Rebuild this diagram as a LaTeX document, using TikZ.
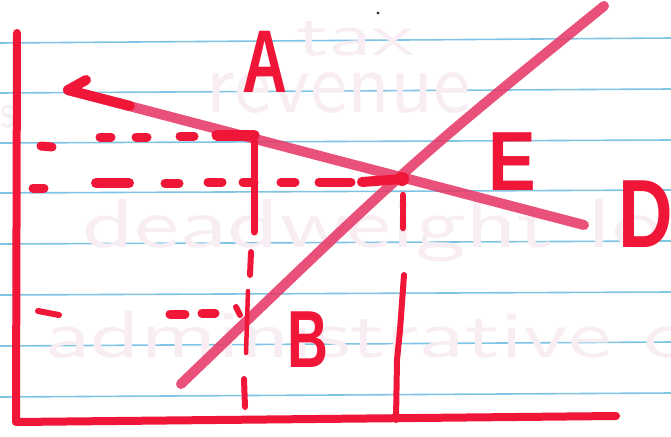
\documentclass[tikz,border=0pt]{standalone}
\usepackage{fontspec}
\usepackage{graphicx}
\newfontfamily\markerfont{Liberation Sans}
\definecolor{mred}{RGB}{240,22,56}
\definecolor{mpink}{RGB}{230,58,104}
\definecolor{rulecol}{RGB}{128,196,228}
\definecolor{ghost}{RGB}{247,237,243}
\tikzset{
  axisline/.style={draw=mred,line width=8pt,line cap=round,line join=round},
  curveline/.style={draw=mpink,line width=10pt,line cap=round,opacity=0.88},
  dashpiece/.style={draw=mred,line width=9pt,line cap=round},
  guidepiece/.style={draw=mred,line width=6pt,line cap=round},
  ruling/.style={draw=rulecol,line width=1.6pt},
  lab/.style={text=mred,inner sep=0pt,anchor=base},
  ghosttext/.style={text=ghost,font=\sffamily,inner sep=0pt,anchor=base west}
}
\begin{document}
\begin{tikzpicture}[x=1pt,y=-1pt]
\useasboundingbox (0,0) rectangle (671,436);
\fill[white] (0,0) rectangle (671,436);
% notebook rulings
\foreach \yl/\yr in {43/38,93/89,143/140,193/190,244/241,295/292,346/342,397/393}
  \draw[ruling] (0,\yl) -- (671,\yr);
% faint bleed-through writing
\node[ghosttext] (g0) at (0,127) {\resizebox{16pt}{22pt}{s}};
\node[ghosttext] (g1) at (296,55) {\resizebox{118pt}{34pt}{tax}};
\node[ghosttext] (g2) at (206,112) {\resizebox{264pt}{40pt}{revenue}};
\node[ghosttext] (g3) at (82,247) {\resizebox{580pt}{48pt}{deadweight lo}};
\node[ghosttext] (g4) at (44,357) {\resizebox{690pt}{46pt}{administrative co}};
% speck
\fill[black!80] (378,13) circle (1.6);
% axes
\coordinate (yTop) at (17,33);
\coordinate (orig) at (16,422);
\coordinate (xEnd) at (616,416);
\draw[axisline] (yTop) -- (orig) -- (xEnd);
% key points
\coordinate (E0) at (402,179);
\coordinate (dL) at (68,90);
\coordinate (dL2) at (130,106);
\coordinate (dR) at (584,225);
\coordinate (barb) at (86,80);
\coordinate (sL) at (181,384);
\coordinate (sR) at (604,6);
% supply line (slightly bowed through E)
\draw[curveline] (sL) .. controls (413,161) .. (sR);
% demand line with arrow at its left end
\draw[curveline] (dL) -- (dR);
\draw[draw=mred,line width=10pt,line cap=round,line join=round] (barb) -- (dL) -- (dL2);
% upper dashed level (A)
\draw[dashpiece] (41,146) -- (52,147);
\draw[dashpiece] (100,137) -- (111,137);
\draw[dashpiece] (136,137) -- (147,137);
\draw[dashpiece] (180,136) -- (194,136);
\draw[dashpiece,line width=11pt] (217,135) -- (254,135);
% middle dashed level (E)
\draw[dashpiece] (33,188) -- (44,188);
\draw[dashpiece,line width=10pt] (96,183) -- (129,183);
\draw[dashpiece] (165,183) -- (179,183);
\draw[dashpiece] (208,182) -- (222,182);
\draw[dashpiece] (243,182) -- (254,182);
\draw[dashpiece] (281,182) -- (295,182);
\draw[dashpiece] (319,182) -- (351,182);
\draw[dashpiece,line width=10pt] (362,182) -- (E0);
\fill[mred] (E0) circle (7);
% lower dashed level (B)
\draw[dashpiece,line width=6pt] (38,311) -- (59,315);
\draw[dashpiece] (170,314) -- (185,314);
\draw[dashpiece] (202,313) -- (215,313);
\draw[dashpiece,line width=6pt] (236,307) -- (240,315);
% vertical guide under A
\draw[guidepiece,line width=7pt] (254,136) -- (254,232);
\draw[guidepiece] (251,252) -- (250,275);
\draw[guidepiece,line width=4.5pt] (248,291) -- (246,353);
\draw[guidepiece] (244,379) -- (245,407);
% vertical guide under E
\draw[guidepiece,line width=6.5pt] (403,195) -- (403,228);
\draw[guidepiece] (404,275) -- (400,330) -- (397,360) -- (396,420);
% labels
\node[lab,font=\markerfont\bfseries\fontsize{89pt}{89pt}\selectfont] (A) at (265,92) {\scalebox{0.7}[1]{A}};
\node[lab,font=\markerfont\bfseries\fontsize{84pt}{84pt}\selectfont] (E) at (512,190) {\scalebox{0.85}[1]{E}};
\node[lab,font=\markerfont\bfseries\fontsize{97pt}{97pt}\selectfont] (D) at (646,247) {\scalebox{0.78}[1]{D}};
\node[lab,font=\markerfont\bfseries\fontsize{81pt}{81pt}\selectfont] (B) at (308,367) {\scalebox{0.7}[1]{B}};
\end{tikzpicture}
\end{document}
